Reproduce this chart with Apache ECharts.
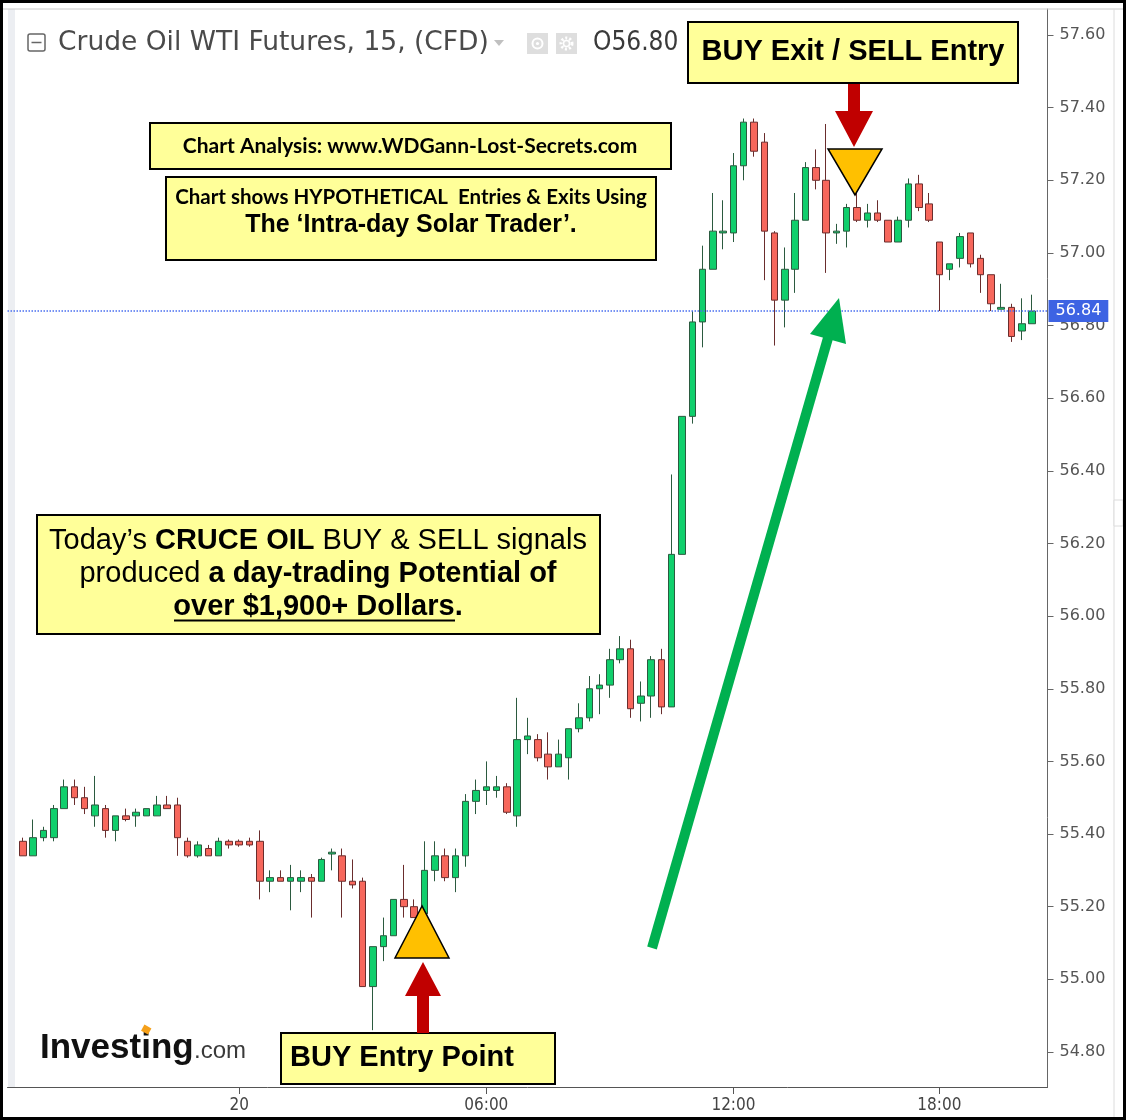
<!DOCTYPE html>
<html><head><meta charset="utf-8">
<script src="https://cdn.jsdelivr.net/npm/echarts@6/dist/echarts.min.js"></script>
<style>html,body{margin:0;padding:0;background:#fff}#c{width:1126px;height:1120px}</style>
</head><body><div id="c"></div>
<script>
// ---- data ----
const times = [
'19 18:45',
'19 19:00','19 19:15','19 19:30','19 19:45','19 20:00','19 20:15','19 20:30','19 20:45',
'19 21:00','19 21:15','19 21:30','19 21:45','19 22:00','19 22:15','19 22:30','19 22:45',
'19 23:00','19 23:15','19 23:30','19 23:45',
'20 00:00','20 00:15','20 00:30','20 00:45','20 01:00','20 01:15','20 01:30','20 01:45',
'20 02:00','20 02:15','20 02:30','20 02:45','20 03:00','20 03:15','20 03:30','20 03:45',
'20 04:00','20 04:15','20 04:30','20 04:45','20 05:00','20 05:15','20 05:30','20 05:45',
'20 06:00','20 06:15','20 06:30','20 06:45','20 07:00','20 07:15','20 07:30','20 07:45',
'20 08:00','20 08:15','20 08:30','20 08:45','20 09:00','20 09:15','20 09:30','20 09:45',
'20 10:00','20 10:15','20 10:30','20 10:45','20 11:00','20 11:15','20 11:30','20 11:45',
'20 12:00','20 12:15','20 12:30','20 12:45','20 13:00','20 13:15','20 13:30','20 13:45',
'20 14:00','20 14:15','20 14:30','20 14:45','20 15:00','20 15:15','20 15:30','20 15:45',
'20 16:00','20 16:15','20 16:30','20 16:45',
'20 18:00','20 18:15','20 18:30','20 18:45','20 19:00','20 19:15','20 19:30','20 19:45',
'20 20:00','20 20:15'
];
const open = [
55.38,55.34,55.39,55.39,55.47,55.53,55.50,55.45,55.47,55.41,
55.45,55.45,55.45,55.45,55.48,55.48,55.38,55.34,55.36,55.34,
55.38,55.38,55.38,55.38,55.27,55.28,55.27,55.27,55.28,55.27,
55.345,55.34,55.27,55.27,54.98,55.09,55.12,55.22,55.20,55.18,
55.30,55.34,55.28,55.34,55.49,55.52,55.52,55.53,55.45,55.66,
55.66,55.62,55.585,55.61,55.69,55.72,55.80,55.81,55.88,55.91,
55.76,55.78,55.88,55.75,56.17,56.55,56.81,56.955,57.055,57.055,
57.24,57.36,57.305,57.055,56.87,56.955,57.09,57.235,57.20,57.055,
57.06,57.125,57.09,57.11,57.09,57.03,57.09,57.19,57.135,57.03,
56.955,56.985,57.055,56.985,56.94,56.845,56.85,56.785,56.805
];
const close = [
55.34,55.39,55.41,55.47,55.53,55.50,55.47,55.48,55.41,55.45,
55.44,55.46,55.47,55.48,55.47,55.39,55.34,55.37,55.34,55.38,
55.37,55.37,55.37,55.27,55.28,55.27,55.28,55.28,55.27,55.33,
55.35,55.27,55.26,54.98,55.09,55.12,55.22,55.20,55.17,55.30,
55.34,55.28,55.34,55.49,55.52,55.53,55.53,55.46,55.66,55.67,
55.61,55.585,55.62,55.69,55.72,55.80,55.81,55.88,55.91,55.745,
55.78,55.88,55.75,56.17,56.55,56.81,56.955,57.06,57.06,57.24,
57.36,57.28,57.06,56.87,56.955,57.09,57.235,57.20,57.055,57.06,
57.125,57.09,57.11,57.09,57.03,57.09,57.19,57.125,57.09,56.94,
56.97,57.045,56.97,56.94,56.86,56.85,56.77,56.805,56.84
];
const low = [
55.34,55.34,55.38,55.38,55.47,55.48,55.455,55.42,55.39,55.38,
55.435,55.42,55.45,55.45,55.47,55.34,55.335,55.335,55.34,55.34,
55.36,55.365,55.365,55.22,55.24,55.27,55.19,55.24,55.17,55.27,
55.30,55.17,55.25,54.98,54.86,55.05,55.12,55.17,55.17,55.18,
55.27,55.27,55.24,55.31,55.455,55.48,55.50,55.455,55.42,55.62,
55.60,55.55,55.585,55.55,55.68,55.71,55.73,55.775,55.87,55.72,
55.71,55.72,55.73,55.75,56.17,56.53,56.74,56.955,57.01,57.03,
57.20,57.265,56.925,56.745,56.795,56.89,57.09,57.175,56.945,57.025,
57.015,57.085,57.07,57.085,57.03,57.03,57.07,57.115,57.085,56.84,
56.925,56.96,56.96,56.89,56.84,56.845,56.755,56.76,56.805
];
const high = [
55.39,55.44,55.42,55.48,55.55,55.55,55.53,55.56,55.48,55.45,
55.47,55.47,55.47,55.505,55.505,55.50,55.39,55.38,55.37,55.39,
55.385,55.385,55.39,55.41,55.30,55.30,55.315,55.30,55.29,55.335,
55.36,55.36,55.33,55.28,55.09,55.17,55.22,55.315,55.22,55.38,
55.38,55.36,55.36,55.51,55.55,55.60,55.56,55.54,55.775,55.72,
55.675,55.68,55.66,55.69,55.76,55.835,55.84,55.91,55.945,55.935,
55.82,55.89,55.91,56.39,56.55,56.84,57.02,57.165,57.145,57.275,
57.37,57.37,57.33,57.06,57.015,57.165,57.25,57.285,57.355,57.08,
57.135,57.165,57.135,57.145,57.09,57.10,57.205,57.215,57.165,57.03,
56.97,57.055,57.055,56.995,56.94,56.915,56.86,56.875,56.885
];
const yTicks = [54.8,55.0,55.2,55.4,55.6,55.8,56.0,56.2,56.4,56.6,56.8,57.0,57.2,57.4,57.6];
const xTickLabels = {'20 00:00':'20','20 06:00':'06:00','20 12:00':'12:00','20 18:00':'18:00'};
const lastPrice = close[close.length - 1];

// ---- build option ----
const rows = times.map((t, i) => [open[i], close[i], low[i], high[i]]);
const EMPTY = ['-', '-', '-', '-'];
const cats = ['pad-start'].concat(times, ['pad-end']);
const seriesData = [EMPTY].concat(rows, [EMPTY]);

const ARIAL = "'Liberation Sans', Arial, sans-serif";
const CAL = "Lato, 'Open Sans', sans-serif";
const Z = 100;
function txt(x, y, text, font, fill, align, extra) {
  return {
    type: 'text', x: x, y: y, z: Z,
    style: Object.assign({
      text: text, font: font, fill: fill || '#000',
      align: align || 'center', textAlign: align || 'center',
      verticalAlign: 'middle', textVerticalAlign: 'middle'
    }, extra || {})
  };
}
function box(x, y, w, h) {
  return { type: 'rect', z: Z, shape: { x: x, y: y, width: w, height: h },
    style: { fill: '#FFFF99', stroke: '#000', lineWidth: 2 } };
}
function poly(points, fill, stroke, lw) {
  return { type: 'polygon', z: Z + 1, shape: { points: points },
    style: { fill: fill, stroke: stroke || null, lineWidth: lw || 0 } };
}

const richD = {
  n: { fontFamily: 'Liberation Sans', fontSize: 29, fill: '#000' },
  b: { fontFamily: 'Liberation Sans', fontSize: 29, fontWeight: 'bold', fill: '#000' }
};

const graphics = [
  // frame
  { type: 'rect', z: 0, shape: { x: 8, y: 9, width: 7, height: 1078 }, style: { fill: '#eceef2' } },
  { type: 'line', z: Z, shape: { x1: 2, y1: 9, x2: 1124, y2: 9 }, style: { stroke: '#c8c8c8', lineWidth: 1 } },
  { type: 'line', z: Z, shape: { x1: 1114, y1: 9, x2: 1114, y2: 1117 }, style: { stroke: '#dcdcdc', lineWidth: 1 } },
  { type: 'rect', z: Z, shape: { x: 1114, y: 500, width: 9, height: 26 }, style: { fill: '#fff', stroke: '#dcdcdc', lineWidth: 1 } },
  { type: 'rect', z: Z + 5, shape: { x: 1.5, y: 1.5, width: 1123, height: 1117 }, style: { fill: 'none', stroke: '#000', lineWidth: 3 } },

  // title bar
  { type: 'rect', z: Z, shape: { x: 28, y: 34, width: 17, height: 17, r: 2 }, style: { fill: 'none', stroke: '#666', lineWidth: 1.5 } },
  { type: 'line', z: Z, shape: { x1: 31.5, y1: 42.5, x2: 41.5, y2: 42.5 }, style: { stroke: '#666', lineWidth: 1.5 } },
  txt(58, 43, 'Crude Oil WTI Futures, 15, (CFD)', "26.5px 'DejaVu Sans', sans-serif", '#4a4a4a', 'left'),
  poly([[494, 40], [504, 40], [499, 46]], '#c0c0c0'),
  { type: 'rect', z: Z, shape: { x: 527, y: 33, width: 21, height: 21 }, style: { fill: '#dedede' } },
  { type: 'circle', z: Z + 1, shape: { cx: 537.5, cy: 43.5, r: 5 }, style: { fill: 'none', stroke: '#fff', lineWidth: 2 } },
  { type: 'circle', z: Z + 1, shape: { cx: 537.5, cy: 43.5, r: 1.6 }, style: { fill: '#fff' } },
  { type: 'rect', z: Z, shape: { x: 556, y: 33, width: 21, height: 21 }, style: { fill: '#dedede' } },
  { type: 'circle', z: Z + 1, shape: { cx: 566.5, cy: 43.5, r: 5.5 }, style: { fill: 'none', stroke: '#fff', lineWidth: 3, lineDash: [2, 2] } },
  { type: 'circle', z: Z + 1, shape: { cx: 566.5, cy: 43.5, r: 3 }, style: { fill: 'none', stroke: '#fff', lineWidth: 1.5 } },
  txt(593, 43, 'O56.80', "26px 'DejaVu Sans Condensed', 'DejaVu Sans', sans-serif", '#3a3a3a', 'left'),

  // BUY Exit / SELL Entry
  box(688, 22, 330, 61),
  txt(853, 52, 'BUY Exit / SELL Entry', "bold 29px " + ARIAL, '#000'),
  poly([[848, 84], [860, 84], [860, 111], [873, 111], [854, 147], [835, 111], [848, 111]], '#C00000'),
  poly([[828, 149], [882, 149], [855, 195]], '#FFC000', '#000', 1.5),

  // Chart analysis boxes
  box(150, 123, 521, 46),
  txt(410, 146, 'Chart Analysis: www.WDGann-Lost-Secrets.com', "bold 21px " + CAL, '#000'),
  box(166, 177, 490, 83),
  txt(411, 197, 'Chart shows HYPOTHETICAL  Entries & Exits Using', "bold 20.5px " + CAL, '#000'),
  txt(411, 225, 'The \u2018Intra-day Solar Trader\u2019.', "bold 25px " + ARIAL, '#000'),

  // big box
  box(37, 515, 563, 119),
  { type: 'text', x: 318, y: 541, z: Z, style: { text: '{n|Today\u2019s }{b|CRUCE OIL}{n| BUY & SELL signals}', rich: richD,
      align: 'center', textAlign: 'center', verticalAlign: 'middle', textVerticalAlign: 'middle' } },
  { type: 'text', x: 318, y: 574, z: Z, style: { text: '{n|produced }{b|a day-trading Potential of}', rich: richD,
      align: 'center', textAlign: 'center', verticalAlign: 'middle', textVerticalAlign: 'middle' } },
  { type: 'text', x: 318, y: 607, z: Z, style: { text: '{b|over $1,900+ Dollars.}', rich: richD,
      align: 'center', textAlign: 'center', verticalAlign: 'middle', textVerticalAlign: 'middle' } },
  { type: 'line', z: Z, shape: { x1: 174, y1: 620.5, x2: 455, y2: 620.5 }, style: { stroke: '#000', lineWidth: 2 } },

  // green arrow
  { type: 'line', z: Z, shape: { x1: 652, y1: 948, x2: 828, y2: 338 }, style: { stroke: '#00B050', lineWidth: 10 } },
  poly([[839, 298], [810, 334], [846, 344]], '#00B050'),

  // BUY entry
  poly([[422, 906], [395, 958], [449, 958]], '#FFC000', '#000', 1.5),
  poly([[423, 962], [441, 996], [429, 996], [429, 1033], [417, 1033], [417, 996], [405, 996]], '#C00000'),
  box(281, 1033, 274, 51),
  txt(290, 1058, 'BUY Entry Point', "bold 29px " + ARIAL, '#000', 'left'),

  // logo
  { type: 'text', x: 40, y: 1066, z: Z, style: { text: 'Investing', font: "bold 35px " + ARIAL, fill: '#111',
      align: 'left', textAlign: 'left', verticalAlign: 'bottom', textVerticalAlign: 'bottom' } },
  { type: 'text', x: 194, y: 1063.5, z: Z, style: { text: '.com', font: "24px " + ARIAL, fill: '#3a3a3a',
      align: 'left', textAlign: 'left', verticalAlign: 'bottom', textVerticalAlign: 'bottom' } },
  { type: 'rect', z: Z + 1, rotation: -0.5, x: 146, y: 1030, shape: { x: -4, y: -4, width: 8, height: 7 }, style: { fill: '#f5a01a' } }
];

const option = {
  animation: false,
  backgroundColor: '#fff',
  grid: { left: 7.5, right: 78.5, top: 9, bottom: 33, containLabel: false, outerBoundsMode: 'none' },
  xAxis: {
    type: 'category', data: cats, boundaryGap: true,
    axisLine: { show: true, lineStyle: { color: '#555', width: 1 } },
    axisTick: { show: true, alignWithLabel: true, length: 7, interval: (i, v) => !!xTickLabels[v], lineStyle: { color: '#555' } },
    axisLabel: { interval: (i, v) => !!xTickLabels[v], formatter: v => xTickLabels[v] || '', color: '#444', fontSize: 17,
      fontFamily: "'Liberation Sans Narrow', 'DejaVu Sans Condensed', sans-serif", margin: 10 },
    splitLine: { show: false }
  },
  yAxis: {
    type: 'value', position: 'right', scale: true, min: 54.7035, max: 57.6716,
    splitNumber: 15, minInterval: 0.2, maxInterval: 0.2,
    axisLine: { show: true, lineStyle: { color: '#666', width: 1 } },
    axisTick: { show: true, length: 6, customValues: yTicks, lineStyle: { color: '#666' } },
    axisLabel: { customValues: yTicks, color: '#555', fontSize: 16, fontFamily: "'DejaVu Sans', sans-serif", margin: 12,
      formatter: v => (Math.abs(v * 5 - Math.round(v * 5)) < 1e-6 ? v.toFixed(2) : '') },
    splitLine: { show: false }
  },
  series: [{
    type: 'candlestick', data: seriesData, barWidth: 7,
    itemStyle: { color: '#10cf6c', color0: '#f7675c', borderColor: '#2b5a3f', borderColor0: '#6a2d2d', borderWidth: 1 },
    markLine: {
      silent: true, animation: false, symbol: ['none', 'none'],
      data: [{ yAxis: lastPrice }],
      lineStyle: { color: '#4a6ff0', type: 'dotted', width: 1.5 },
      label: { show: true, position: 'end', distance: 1, formatter: lastPrice.toFixed(2),
        backgroundColor: '#3d63e3', color: '#fff', padding: [3, 7, 3, 7], fontSize: 16, fontFamily: "'DejaVu Sans', sans-serif" }
    }
  }],
  graphic: { elements: graphics }
};

const chart = echarts.init(document.getElementById('c'), null, { renderer: 'canvas' });
chart.setOption(option);
</script>
</body></html>
